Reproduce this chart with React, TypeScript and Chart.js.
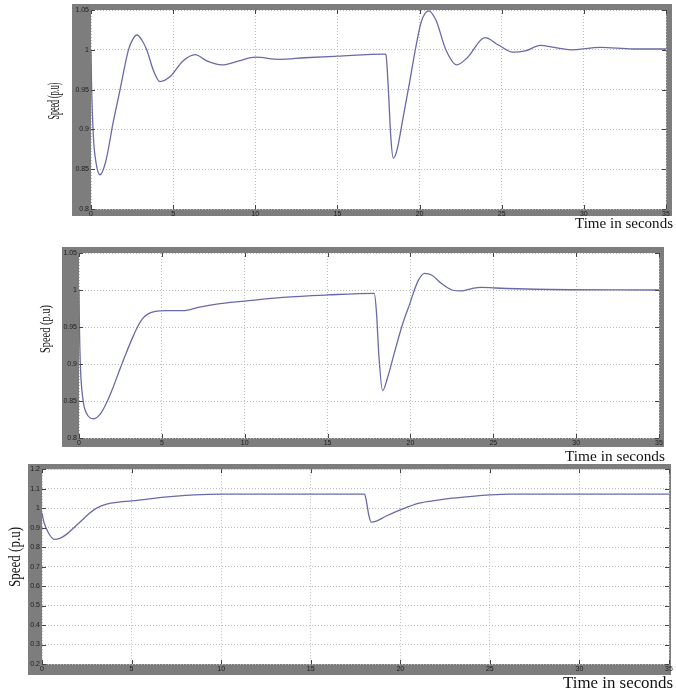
import React, { useEffect, useRef } from "react";
import { Chart, registerables } from "chart.js";

Chart.register(...registerables);

// ---------- data ----------
const xTickValues = [0, 5, 10, 15, 20, 25, 30, 35];

const time1 = [
  0, 0.03, 0.14, 0.3, 0.55, 0.9, 1.36, 1.77, 2.28, 2.55, 2.8, 3.1, 3.39, 3.8, 4.2, 4.8, 5.6, 6.34, 7.05, 7.97,
  9.0, 10, 11.5, 13, 15, 17.9, 17.95, 18.1, 18.25, 18.4, 18.6, 19.0, 19.4, 19.74, 20.1, 20.55, 21.0, 21.6,
  22.26, 22.9, 23.98, 24.8, 25.67, 26.5, 27.34, 28.2, 29.2, 31, 33, 35,
];
const speed1 = [
  1.0, 0.96, 0.893, 0.859, 0.843, 0.86, 0.91, 0.95, 1.0, 1.0135, 1.0186, 1.012, 1.0, 0.974, 0.96, 0.966,
  0.986, 0.994, 0.986, 0.981, 0.986, 0.9907, 0.988, 0.99, 0.992, 0.9945, 0.994, 0.95, 0.89, 0.864, 0.872,
  0.915, 0.96, 1.0, 1.035, 1.049, 1.037, 1.0, 0.981, 0.99, 1.0153, 1.006, 0.997, 0.999, 1.0055, 1.003, 1.0,
  1.003, 1.001, 1.001,
];

const time2 = [
  0, 0.02, 0.08, 0.24, 0.44, 0.9, 1.3, 1.65, 2.05, 2.45, 2.85, 3.26, 3.6, 3.86, 4.2, 4.6, 5.27, 6.28, 7.28,
  8.3, 10, 12.3, 15, 17.82, 17.95, 18.1, 18.32, 18.6, 19.03, 19.5, 20, 20.24, 20.5, 20.85, 21.3, 21.86, 22.5,
  23.07, 23.7, 24.28, 25.1, 27.5, 35,
];
const speed2 = [
  1.0, 0.96, 0.9, 0.852, 0.834, 0.826, 0.833, 0.847, 0.868, 0.892, 0.915, 0.937, 0.953, 0.962, 0.968, 0.971,
  0.972, 0.972, 0.977, 0.981, 0.985, 0.99, 0.9933, 0.9955, 0.97, 0.91, 0.864, 0.88, 0.915, 0.952, 0.984, 1.0,
  1.014, 1.0225, 1.02, 1.009, 1.0, 0.9987, 1.002, 1.0036, 1.0027, 1.001, 1.0,
];

const time3 = [
  0, 0.1, 0.37, 0.69, 1.0, 1.4, 1.75, 2.2, 2.6, 3.05, 3.61, 4.3, 5.0, 6.0, 7.33, 8.5, 10, 18.0, 18.1, 18.25,
  18.38, 18.7, 19.16, 20.1, 21.0, 22.0, 22.9, 24, 25, 26.1, 35,
];
const speed3 = [
  0.975, 0.93, 0.871, 0.84, 0.845, 0.868, 0.897, 0.935, 0.97, 1.0, 1.0205, 1.031, 1.037, 1.048, 1.06, 1.068,
  1.072, 1.072, 1.04, 0.96, 0.928, 0.935, 0.957, 0.995, 1.025, 1.04, 1.051, 1.061, 1.068, 1.072, 1.072,
];

const yLabelText = "Speed (p.u)";
const xLabelText = "Time in seconds";

// ---------- layout ----------
type Panel = {
  top: number;
  height: number;
  frame: { l: number; r: number; t: number; b: number };
  plot: { l: number; r: number; t: number; b: number };
  yMin: number;
  yMax: number;
  yStep: number;
  time: number[];
  speed: number[];
  yLabel: { cx: number; cy: number; size: number; len: number };
  xLabel: { right: number; cy: number; size: number; len: number };
};

const W = 676;

const panels: Panel[] = [
  {
    top: 0,
    height: 236,
    frame: { l: 72, r: 672, t: 4, b: 216 },
    plot: { l: 91, r: 666, t: 10, b: 209 },
    yMin: 0.8,
    yMax: 1.05,
    yStep: 0.05,
    time: time1,
    speed: speed1,
    yLabel: { cx: 55, cy: 101, size: 17, len: 37 },
    xLabel: { right: 673, cy: 224, size: 15, len: 98 },
  },
  {
    top: 236,
    height: 227,
    frame: { l: 62, r: 664, t: 247, b: 447 },
    plot: { l: 79, r: 659, t: 253, b: 438 },
    yMin: 0.8,
    yMax: 1.05,
    yStep: 0.05,
    time: time2,
    speed: speed2,
    yLabel: { cx: 46, cy: 329, size: 15, len: 48 },
    xLabel: { right: 665, cy: 457, size: 15, len: 100 },
  },
  {
    top: 463,
    height: 232,
    frame: { l: 28, r: 671, t: 464, b: 675 },
    plot: { l: 42, r: 669, t: 469, b: 664 },
    yMin: 0.2,
    yMax: 1.2,
    yStep: 0.1,
    time: time3,
    speed: speed3,
    yLabel: { cx: 16, cy: 557, size: 16, len: 60 },
    xLabel: { right: 673, cy: 684, size: 16, len: 110 },
  },
];

const FRAME = "#7d7d7d";
const LINE = "#6a6aa8";
const GRID = "#bdbdbd";

function PanelChart({ p }: { p: Panel }) {
  const ref = useRef<HTMLCanvasElement | null>(null);

  useEffect(() => {
    const canvas = ref.current;
    if (!canvas) return;
    const T = p.top;
    const yAxisW = p.plot.l - p.frame.l;
    const xAxisH = p.frame.b - p.plot.b;

    const framePlugin = {
      id: "frame" + T,
      beforeDraw(chart: any) {
        const ctx = chart.ctx;
        const a = chart.chartArea;
        ctx.save();
        ctx.fillStyle = FRAME;
        ctx.fillRect(p.frame.l, p.frame.t - T, p.frame.r - p.frame.l, p.frame.b - p.frame.t);
        ctx.fillStyle = "#ffffff";
        ctx.fillRect(a.left, a.top, a.right - a.left, a.bottom - a.top);
        ctx.restore();
      },
      afterDraw(chart: any) {
        const ctx = chart.ctx;
        const a = chart.chartArea;
        const xs = chart.scales.x;
        const ys = chart.scales.y;
        ctx.save();
        // small inward tick marks like MATLAB
        ctx.strokeStyle = "#444";
        ctx.lineWidth = 1;
        ctx.beginPath();
        xs.ticks.forEach((t: any) => {
          const x = Math.round(xs.getPixelForValue(t.value)) + 0.5;
          ctx.moveTo(x, a.top);
          ctx.lineTo(x, a.top + 4);
          ctx.moveTo(x, a.bottom);
          ctx.lineTo(x, a.bottom - 4);
        });
        ys.ticks.forEach((t: any) => {
          const y = Math.round(ys.getPixelForValue(t.value)) + 0.5;
          ctx.moveTo(a.left, y);
          ctx.lineTo(a.left + 4, y);
          ctx.moveTo(a.right, y);
          ctx.lineTo(a.right - 4, y);
        });
        ctx.stroke();

        // y axis title (condensed serif)
        ctx.fillStyle = "#111";
        ctx.font = `${p.yLabel.size}px "Liberation Serif", "DejaVu Serif", serif`;
        const wy = ctx.measureText(yLabelText).width;
        ctx.save();
        ctx.translate(p.yLabel.cx, p.yLabel.cy - T);
        ctx.rotate(-Math.PI / 2);
        ctx.scale(p.yLabel.len / wy, 1);
        ctx.textAlign = "center";
        ctx.textBaseline = "middle";
        ctx.fillText(yLabelText, 0, 0);
        ctx.restore();

        // x axis title
        ctx.font = `${p.xLabel.size}px "Liberation Serif", "DejaVu Serif", serif`;
        const wx = ctx.measureText(xLabelText).width;
        ctx.save();
        ctx.translate(p.xLabel.right - p.xLabel.len, p.xLabel.cy - T);
        ctx.scale(p.xLabel.len / wx, 1);
        ctx.textAlign = "left";
        ctx.textBaseline = "middle";
        ctx.fillText(xLabelText, 0, 0);
        ctx.restore();
        ctx.restore();
      },
    };

    const chart = new Chart(canvas, {
      type: "line",
      data: {
        datasets: [
          {
            data: p.time.map((t, i) => ({ x: t, y: p.speed[i] })),
            borderColor: LINE,
            borderWidth: 1.3,
            pointRadius: 0,
            fill: false,
            cubicInterpolationMode: "monotone",
          },
        ],
      },
      options: {
        responsive: false,
        animation: false,
        events: [],
        layout: {
          padding: {
            left: p.frame.l,
            right: W - p.plot.r,
            top: p.plot.t - T,
            bottom: T + p.height - p.frame.b,
          },
        },
        plugins: { legend: { display: false }, tooltip: { enabled: false } },
        scales: {
          x: {
            type: "linear",
            min: 0,
            max: 35,
            afterFit(scale: any) {
              scale.height = xAxisH;
            },
            afterBuildTicks(scale: any) {
              scale.ticks = xTickValues.map((v) => ({ value: v }));
            },
            ticks: {
              autoSkip: false,
              maxRotation: 0,
              padding: 1,
              color: "#1e1e1e",
              font: { size: 7, family: '"Liberation Sans", Arial, sans-serif' },
              callback: (v: any) => String(v),
            },
            grid: { color: GRID, lineWidth: 1, drawTicks: false },
            border: { display: false, dash: [1, 2] },
          },
          y: {
            type: "linear",
            min: p.yMin,
            max: p.yMax,
            afterFit(scale: any) {
              scale.width = yAxisW;
            },
            ticks: {
              stepSize: p.yStep,
              autoSkip: false,
              padding: 2,
              color: "#1e1e1e",
              font: { size: 7, family: '"Liberation Sans", Arial, sans-serif' },
              callback: (v: any) => String(Math.round(Number(v) * 100) / 100),
            },
            grid: { color: GRID, lineWidth: 1, drawTicks: false },
            border: { display: false, dash: [1, 2] },
          },
        },
      } as any,
      plugins: [framePlugin],
    });
    return () => chart.destroy();
  }, [p]);

  return (
    <canvas
      ref={ref}
      width={W}
      height={p.height}
      style={{ position: "absolute", left: 0, top: p.top, width: W, height: p.height }}
    />
  );
}

export default function App() {
  return (
    <div
      style={{
        position: "absolute",
        left: 0,
        top: 0,
        width: W,
        height: 695,
        background: "#ffffff",
        overflow: "hidden",
      }}
    >
      {panels.map((p, i) => (
        <PanelChart key={i} p={p} />
      ))}
    </div>
  );
}
